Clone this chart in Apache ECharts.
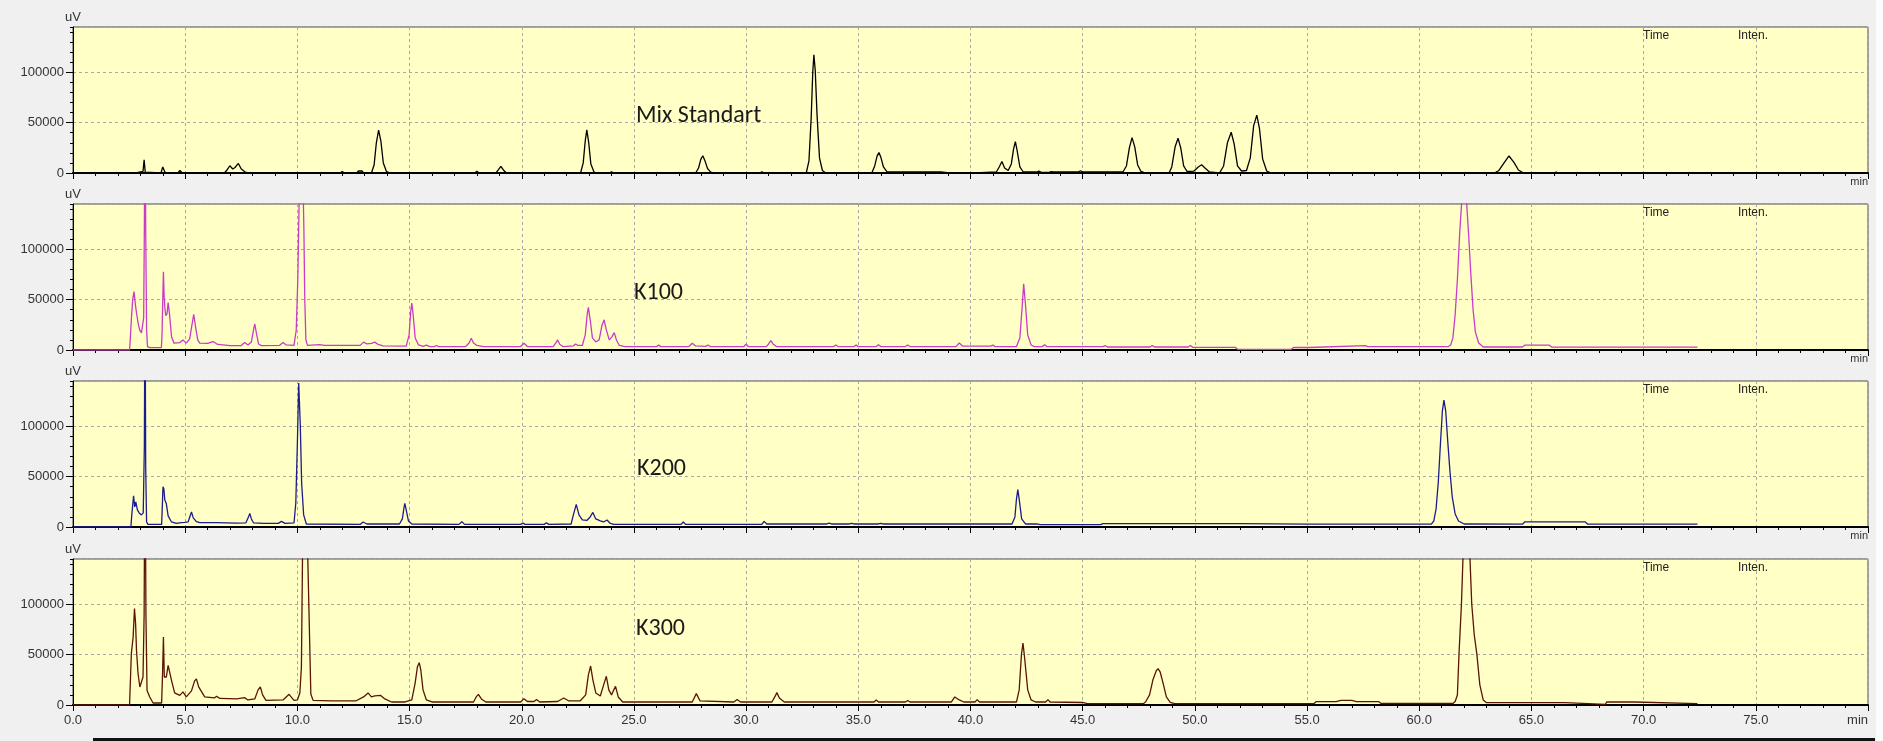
<!DOCTYPE html>
<html>
<head>
<meta charset="utf-8">
<script src="https://cdn.jsdelivr.net/npm/echarts@6/dist/echarts.min.js"></script>
<style>
  html, body { margin: 0; padding: 0; background: #f0f0f0; }
  #chromChart { width: 1883px; height: 741px; }
</style>
</head>
<body>
<div id="chromChart"></div>
<script>
// chromatograms, [retention time (min), intensity (uV)]
var mixStandart = [
  [0,0],[2.8,0],[2.85,1500],[3.12,1500],[3.17,13000],[3.22,800],[3.3,0],
  [3.92,0],[4.0,6000],[4.1,800],[4.2,0],[4.68,0],[4.76,2500],[4.88,0],
  [6.75,0],[6.88,3500],[6.99,7200],[7.12,4000],[7.22,5500],[7.37,9500],[7.5,4000],[7.7,500],[7.85,0],
  [11.9,0],[12.0,1500],[12.1,0],[12.65,0],[12.72,2000],[12.88,2000],[12.95,0],
  [13.3,0],[13.42,8000],[13.52,30000],[13.62,42500],[13.72,32000],[13.83,10000],[13.97,1500],[14.15,0],
  [17.9,0],[18.0,1600],[18.1,0],[18.85,0],[18.97,3500],[19.07,6600],[19.18,3000],[19.32,0],
  [22.62,0],[22.74,10000],[22.83,32000],[22.9,42800],[22.98,31000],[23.08,9000],[23.22,1000],[23.35,0],
  [23.9,0],[24.0,1300],[24.1,0],
  [27.75,0],[27.88,5000],[27.98,13500],[28.07,17100],[28.16,12500],[28.28,4500],[28.42,800],[28.55,0],
  [29.12,0],[29.2,1200],[29.28,0],[29.52,0],[29.6,1200],[29.68,0],[30.6,0],[30.7,1300],[30.8,0],
  [32.68,0],[32.8,12000],[32.9,55000],[32.97,100000],[33.02,117400],[33.08,102000],[33.16,58000],[33.27,15000],[33.4,2500],[33.55,0],
  [35.6,0],[35.73,7000],[35.84,17000],[35.92,20400],[36.0,16000],[36.12,6000],[36.28,1000],[38.7,1000],[38.75,0],
  [39.05,0],[39.12,800],[39.2,0],
  [40.2,0],[40.25,1000],[41.15,1000],[41.28,6000],[41.4,11500],[41.52,5000],[41.68,2500],[41.82,9000],[41.92,24000],[42.0,31250],[42.08,22000],[42.2,6000],[42.35,1000],
  [42.95,1000],[43.05,1800],[43.15,600],[43.5,600],[43.6,1300],[43.7,1000],[44.8,1000],[44.9,2200],[45.0,1000],[46.8,1200],
  [46.95,7000],[47.08,25000],[47.2,35200],[47.32,26000],[47.45,8000],[47.6,1500],[47.8,0],
  [48.85,0],[48.97,6000],[49.12,26000],[49.25,34500],[49.37,25000],[49.5,7000],[49.65,1500],
  [49.95,1800],[50.15,6000],[50.3,8200],[50.45,5000],[50.65,1000],
  [51.1,0],[51.28,7000],[51.45,30000],[51.62,40500],[51.75,29000],[51.9,7000],[52.08,2000],
  [52.3,2500],[52.47,15000],[52.62,47000],[52.76,57500],[52.88,44000],[53.02,14000],[53.2,2000],[53.4,0],
  [63.35,0],[63.55,2500],[63.78,10000],[64.0,16900],[64.22,10500],[64.42,3000],[64.65,0],
  [66.0,0],[66.1,800],[66.2,0],[72.3,0]
];

var k100 = [
  [0,0],[2.52,0],[2.55,10000],[2.6,30000],[2.66,50000],[2.72,58000],[2.78,45000],[2.83,37000],[2.9,27000],[2.97,20000],[3.05,17000],[3.1,18000],
  [3.15,32000],[3.18,120000],[3.21,260000],[3.24,120000],[3.28,20000],[3.32,3400],[3.42,2400],[3.94,2400],
  [3.97,17000],[4.0,50000],[4.03,77700],[4.06,54000],[4.1,40000],[4.14,34000],[4.19,36000],[4.24,47000],[4.3,36000],[4.39,13500],[4.5,6800],
  [4.76,7400],[4.9,10000],[5.05,6800],[5.2,11000],[5.28,22000],[5.38,35500],[5.47,22000],[5.56,10000],[5.65,6800],
  [6.0,6500],[6.24,8400],[6.45,5500],[7.0,4400],[7.5,4400],[7.65,7400],[7.8,5000],[7.95,8000],[8.03,18000],[8.1,26000],[8.18,16000],[8.27,6000],[8.4,4400],
  [9.2,4500],[9.36,7400],[9.5,5000],[9.85,4600],[9.95,20000],[10.02,71000],[10.08,150000],[10.15,200000],[10.23,190000],[10.29,120000],[10.33,50000],[10.38,10000],[10.45,4600],
  [11.0,5400],[11.2,4600],[11.74,4600],[12.8,4600],[12.95,7800],[13.1,6000],[13.3,6500],[13.45,7800],[13.6,5500],[13.82,4000],
  [14.85,3800],[14.98,15000],[15.05,38000],[15.1,46600],[15.16,35000],[15.25,12000],[15.4,5000],[15.6,3600],[15.75,4800],[15.9,3400],[16.1,3400],[16.2,4500],[16.3,3400],
  [17.5,3400],[17.65,7000],[17.75,11700],[17.85,7000],[18.0,4500],[18.3,3400],[19.95,3400],[20.1,6700],[20.25,3400],
  [21.4,3400],[21.52,7000],[21.6,10000],[21.7,5500],[21.85,3400],[22.3,4000],[22.4,6000],[22.5,4500],
  [22.7,4500],[22.83,15000],[22.92,36000],[22.97,42300],[23.05,30000],[23.15,12000],[23.3,8000],[23.45,10000],[23.57,24000],[23.67,30000],[23.77,20000],
  [23.9,10000],[24.02,13000],[24.12,17300],[24.22,10000],[24.35,4500],[24.6,3400],
  [26.0,3400],[26.1,4800],[26.2,3400],[27.45,3400],[27.6,6700],[27.75,4000],[28.2,3600],[28.3,5000],[28.4,3400],
  [29.9,3400],[30.0,5700],[30.1,3400],[30.9,3400],[31.0,6000],[31.1,9300],[31.2,6000],[31.35,3400],
  [33.9,3400],[34.0,5000],[34.1,3400],[34.8,3400],[34.9,4800],[35.0,3400],[35.8,3400],[35.9,5300],[36.0,3400],[37.1,3400],[37.2,5000],[37.3,3400],
  [39.35,3400],[39.5,7000],[39.65,3800],[40.9,3800],[41.0,4800],[41.1,3400],
  [42.05,3400],[42.2,12000],[42.3,42000],[42.37,65700],[42.45,45000],[42.55,15000],[42.7,5000],[42.85,3400],[43.2,3400],[43.3,5300],[43.4,3400],
  [45.9,3400],[46.0,4400],[46.1,3000],[48.0,3000],[48.1,4300],[48.2,3000],[49.7,3000],[49.8,4500],[49.9,2700],[51.8,2700],[51.9,700],[54.3,700],
  [54.4,2500],[55.1,2500],[55.15,4300],[57.6,4300],[57.7,3400],[61.3,3400],
  [61.4,5000],[61.5,12000],[61.6,35000],[61.7,70000],[61.8,115000],[61.9,150000],[62.0,165000],[62.1,150000],[62.2,115000],[62.3,75000],[62.4,40000],[62.5,18000],[62.65,7000],[62.85,3000],
  [64.6,3000],[64.7,4800],[65.8,4800],[65.9,3000],[72.4,2800]
];

var k200 = [
  [0,0],[2.58,0],[2.62,12000],[2.7,31000],[2.75,20000],[2.8,25000],[2.87,17000],[2.95,14000],[3.05,12000],[3.13,14000],
  [3.18,80000],[3.21,250000],[3.24,60000],[3.28,5000],[3.34,2600],[3.95,2600],
  [3.98,20000],[4.01,40000],[4.05,38000],[4.09,27000],[4.16,23000],[4.24,11000],[4.39,5000],[4.61,3600],[4.83,4300],[4.98,4600],[5.13,5000],
  [5.22,11000],[5.28,15000],[5.36,9000],[5.5,5300],[5.65,4300],[6.4,4300],[7.3,3800],[7.7,4000],[7.82,10000],[7.88,13500],[7.95,8000],[8.05,4000],[8.5,3600],
  [9.15,3600],[9.29,5600],[9.45,3600],[9.85,4000],[9.93,24000],[10.0,83000],[10.06,143000],[10.13,101000],[10.19,43700],[10.28,12000],[10.4,3000],
  [12.8,2600],[12.93,5000],[13.1,3000],
  [14.55,3000],[14.68,8000],[14.75,19000],[14.79,23400],[14.85,17000],[14.95,6000],[15.1,3000],
  [17.2,2600],[17.33,5300],[17.45,2600],[19.95,2600],[20.05,3800],[20.15,2600],[21.0,2600],[21.1,4300],[21.2,2600],
  [22.2,3000],[22.3,12000],[22.43,22400],[22.55,12000],[22.7,7000],[22.9,6500],[23.05,10000],[23.17,14500],[23.3,8000],[23.5,6000],[23.65,5000],[23.8,7000],[23.95,3500],[24.1,2600],
  [25.85,2600],[25.93,3800],[26.02,2600],[27.1,2600],[27.2,5000],[27.3,2600],[30.7,2600],[30.8,5600],[30.92,3000],
  [33.6,3000],[33.7,3800],[33.8,3000],[34.6,3000],[34.7,3700],[34.8,3000],[35.9,3000],[36.0,3700],[36.1,3000],
  [41.85,3000],[41.98,10000],[42.05,28000],[42.11,37200],[42.18,26000],[42.28,8000],[42.45,3000],[42.95,3000],[43.0,4300],[43.1,2300],
  [45.8,2300],[45.9,3300],[52.0,3300],[55.0,2800],[60.55,3000],
  [60.65,6000],[60.75,18000],[60.85,45000],[60.95,85000],[61.03,115000],[61.1,126000],[61.18,115000],[61.27,85000],[61.37,55000],[61.47,30000],[61.6,13000],[61.75,6000],[62.0,3000],
  [64.6,2800],[64.7,5000],[67.4,5000],[67.5,3000],[72.4,2800]
];

var k300 = [
  [0,0],[2.52,0],[2.6,51000],[2.68,67500],[2.74,95700],[2.79,80800],[2.83,54300],[2.9,31000],[2.98,17900],[3.05,16000],[3.12,27800],
  [3.17,90000],[3.21,280000],[3.25,90000],[3.3,14500],[3.42,8000],[3.57,2000],[3.95,2000],
  [3.99,30000],[4.03,67500],[4.07,27800],[4.16,27800],[4.24,39400],[4.31,41000],[4.39,24500],[4.53,12000],[4.76,9600],[4.9,13000],[5.05,8000],
  [5.28,14000],[5.42,24000],[5.5,26000],[5.6,18000],[5.87,8000],[6.3,7000],[6.4,8600],[6.55,6500],[7.3,6000],[7.64,7300],[7.8,5000],
  [8.1,6000],[8.25,15000],[8.35,17900],[8.45,10000],[8.6,4600],[9.36,5000],[9.63,10600],[9.85,4600],
  [10.0,5000],[10.11,12000],[10.18,37700],[10.23,150000],[10.35,230000],[10.46,150000],[10.53,80800],[10.6,11000],[10.7,4600],
  [11.5,4000],[12.6,4000],[12.95,8000],[13.15,12000],[13.3,8000],[13.45,9000],[13.7,9600],[13.9,6000],[14.2,3000],
  [14.8,3000],[15.1,5000],[15.25,22000],[15.35,38000],[15.43,42000],[15.5,35000],[15.6,15000],[15.75,5000],[16.0,3000],
  [17.85,3000],[17.97,8000],[18.07,10600],[18.2,6000],[18.4,3000],[19.95,3000],[20.1,6300],[20.25,3500],[20.55,3500],[20.66,5500],[20.8,3000],
  [21.6,3500],[21.87,7000],[22.1,4000],[22.6,4000],
  [22.85,10000],[22.97,30000],[23.07,38700],[23.17,25000],[23.3,12000],[23.5,9000],[23.65,20000],[23.77,28500],[23.88,15000],
  [24.0,10000],[24.08,14000],[24.18,18500],[24.3,8000],[24.5,3000],
  [27.6,3000],[27.78,11300],[27.95,4000],[29.45,3000],[29.6,5500],[29.75,3000],
  [31.15,3000],[31.3,9000],[31.37,12300],[31.48,7000],[31.7,3000],[35.7,3000],[35.8,5000],[35.9,3000],[37.1,3000],[37.2,4500],[37.3,3000],
  [39.15,3000],[39.3,8000],[39.37,9600],[39.5,5000],[39.7,3000],[40.2,3000],[40.3,5300],[40.4,3000],
  [42.05,3000],[42.17,15000],[42.27,50000],[42.34,61600],[42.42,45000],[42.55,15000],[42.7,5000],[42.9,3000],
  [43.35,3000],[43.45,5300],[43.55,3000],[45.0,2500],[45.2,1300],[47.7,1300],
  [47.8,3000],[47.98,10000],[48.13,25000],[48.28,34000],[48.36,36100],[48.45,33000],[48.58,22000],[48.73,8000],[48.9,2500],[49.1,1300],
  [55.3,1300],[55.4,3300],[56.3,3300],[56.5,4500],[57.0,4500],[57.2,3300],[58.2,3300],[58.3,1500],[61.5,1500],
  [61.6,3500],[61.7,10000],[61.77,50000],[61.88,100000],[62.0,180000],[62.1,220000],[62.2,180000],[62.34,100000],[62.45,70000],[62.57,50000],[62.7,20000],[62.85,5000],
  [63.0,2300],[66.5,2300],[66.55,700],[68.3,700],[68.35,3000],[69.6,3000],[69.65,1300],[72.4,1300]
];

var sampleNames = ["Mix Standart", "K100", "K200", "K300"];
var sampleData = [mixStandart, k100, k200, k300];
var lineColors = ["#000000", "#c83cc8", "#1c1c8c", "#5a1408"];
var timeMin = 0, timeMax = 80, timeStep = 5;
var intenMax = 145000, intenStep = 50000, intenMinorStep = 10000;

var gridTops = [27, 204, 381, 559];
var nameY = [116, 293, 469, 629];
var nameX = [636, 634, 637, 636];
var textFont = '"Liberation Sans", Arial, sans-serif';

var myChart = echarts.init(document.getElementById("chromChart"));

var grids = [], xAxes = [], yAxes = [], series = [], graphics = [];
sampleData.forEach(function (data, i) {
  var last = i === sampleData.length - 1;
  grids.push({
    left: 73, right: 15, top: gridTops[i], height: 146,
    show: true, backgroundColor: "#ffffc6",
    borderColor: "#4a4a4a", borderWidth: 1
  });
  xAxes.push({
    gridIndex: i, type: "value",
    min: timeMin, max: timeMax, interval: timeStep,
    axisLine: { onZero: false, lineStyle: { color: "#000", width: 2 } },
    axisTick: { length: 6, lineStyle: { color: "#000" } },
    minorTick: { show: true, splitNumber: 5, length: 3, lineStyle: { color: "#000" } },
    splitLine: { show: true, lineStyle: { color: "#a8a8a8", type: [3, 3] } },
    axisLabel: {
      color: "#333",
      fontFamily: textFont,
      fontSize: last ? 13 : 11,
      margin: last ? 9 : 3,
      alignMaxLabel: "right",
      formatter: function (v) {
        if (v === timeMax) return "min";
        return last ? v.toFixed(1) : "";
      }
    }
  });
  // labels, long ticks and grid lines
  yAxes.push({
    gridIndex: i, type: "value", position: "left",
    min: 0, max: intenMax, interval: intenStep,
    name: "uV", nameLocation: "end", nameGap: 3,
    nameTextStyle: { color: "#333", fontSize: 13, fontFamily: textFont },
    axisLine: { show: true, lineStyle: { color: "#000", width: 1 } },
    axisTick: { show: true, length: 7, lineStyle: { color: "#000" } },
    axisLabel: {
      color: "#333", fontSize: 13, fontFamily: textFont, margin: 9, showMaxLabel: false,
      formatter: function (v) { return String(v); }
    },
    splitLine: { show: true, lineStyle: { color: "#a8a8a8", type: [3, 3] } }
  });
  // short ticks every 10000
  yAxes.push({
    gridIndex: i, type: "value", position: "left",
    min: 0, max: intenMax, interval: intenMinorStep,
    axisLine: { show: false },
    axisTick: { show: true, length: 3, lineStyle: { color: "#000" } },
    axisLabel: { show: false },
    splitLine: { show: false }
  });
  series.push({
    name: sampleNames[i],
    type: "line",
    xAxisIndex: i,
    yAxisIndex: 2 * i,
    data: data,
    symbol: "none",
    clip: true,
    lineStyle: { color: lineColors[i], width: 1.3 },
    itemStyle: { color: lineColors[i] },
    z: 5
  });
  graphics.push({
    type: "text", x: 1643, y: gridTops[i] + 3, z: 10,
    style: { text: "Time", fontSize: 12, fontFamily: textFont, fill: "#222" }
  });
  graphics.push({
    type: "text", x: 1738, y: gridTops[i] + 3, z: 10,
    style: { text: "Inten.", fontSize: 12, fontFamily: textFont, fill: "#222" }
  });
  graphics.push({
    type: "text", x: nameX[i], y: nameY[i], z: 10,
    style: {
      text: sampleNames[i], fontSize: 24, fontFamily: "Carlito, Lato, sans-serif",
      fill: "#1a1a1a", verticalAlign: "middle"
    }
  });
});

// window edges of the screenshot
graphics.push({ type: "rect", shape: { x: 1876, y: 0, width: 7, height: 741 }, style: { fill: "#fbfbfb" }, z: 1 });
graphics.push({ type: "rect", shape: { x: 93, y: 738, width: 1782, height: 3 }, style: { fill: "#111" }, z: 1 });

myChart.setOption({
  animation: false,
  backgroundColor: "#f0f0f0",
  grid: grids,
  xAxis: xAxes,
  yAxis: yAxes,
  series: series,
  graphic: graphics
});
</script>
</body>
</html>
